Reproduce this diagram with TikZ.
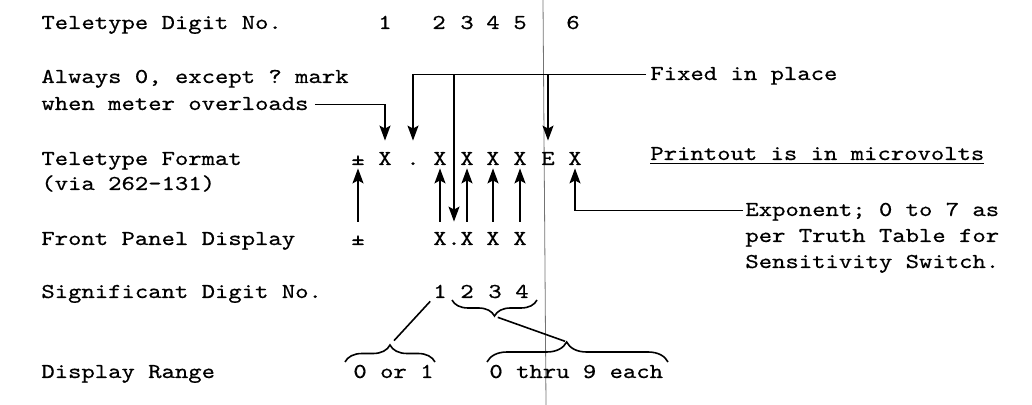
\documentclass[tikz,border=0pt]{standalone}
\usepackage{fontspec}
\setmonofont{lmmono10-regular}[Extension=.otf,FakeStretch=1.2,FakeBold=0.5]
\usetikzlibrary{arrows.meta,decorations.pathreplacing}
\begin{document}
\begin{tikzpicture}[x=0.5pt,y=-0.5pt,font=\ttfamily\fontsize{10.6pt}{13.5pt}\selectfont,rowtext/.style={anchor=base west,inner sep=0pt,text height=7pt,text depth=1.5pt},chr/.style={anchor=base,inner sep=0pt,text height=7pt,text depth=0pt},pointer/.style={draw=black,line width=0.8pt,-{Stealth[length=7.5pt,width=5.5pt,inset=1.5pt]}},leader/.style={draw=black,line width=0.8pt},bracket/.style={draw=black,line width=0.8pt,decorate,decoration={brace,amplitude=#1}}]
\useasboundingbox (0,0) rectangle (1032,405);
\draw[black!55,line width=0.4pt] (543,0) -- (546,405);
% row titles
\node[rowtext] (digitno) at (41,29) {Teletype Digit No.};
\node[rowtext] (always1) at (41,83) {Always 0, except ? mark};
\node[rowtext] (always2) at (41,110) {when meter overloads};
\node[rowtext] (format1) at (41,165) {Teletype Format};
\node[rowtext] (format2) at (41,190) {(via 262-131)};
\node[rowtext] (panel) at (41,245) {Front Panel Display};
\node[rowtext] (signo) at (41,298) {Significant Digit No.};
\node[rowtext] (range) at (41,378) {Display Range};
% digits and formats
\foreach \n/\x in {1/385,2/439,3/467,4/493,5/520,6/573} \node[chr] (d\n) at (\x,29) {\n};
\foreach \n/\x/\c in {pm/358/±,x1/385/X,dot/413/.,x2/440/X,x3/467/X,x4/493/X,x5/520/X,e/548/E,x6/575/X} \node[chr] (t\n) at (\x,165) {\c};
\foreach \n/\x/\c in {pm/358/±,x1/440/X,dot/454/.,x2/467/X,x3/493/X,x4/520/X} \node[chr] (f\n) at (\x,245) {\c};
\foreach \n/\x in {1/440,2/467,3/495,4/522} \node[chr] (s\n) at (\x,298) {\n};
\node[rowtext] (rangeA) at (353,378) {0 or 1};
\node[rowtext] (rangeB) at (489,378) {0 thru 9 each};
% notes on the right
\node[rowtext] (fixed) at (650,80) {Fixed in place};
\node[rowtext] (units) at (650,160) {\underline{Printout is in microvolts}};
\node[rowtext] (expo1) at (745,216) {Exponent; 0 to 7 as};
\node[rowtext] (expo2) at (745,242) {per Truth Table for};
\node[rowtext] (expo3) at (745,268) {Sensitivity Switch.};
% arrows
\draw[pointer,shorten <=3pt,shorten >=5pt] (always2.east) -| (tx1.north);
\draw[pointer,shorten <=2pt,shorten >=5pt] (fixed.west) -| (tdot.north);
\draw[pointer,shorten >=4.5pt] (fixed.west -| fdot) -- (fdot.north);
\draw[pointer,shorten >=5pt] (fixed.west -| te) -- (te.north);
\foreach \a/\b in {pm/pm,x1/x2,x2/x3,x3/x4,x4/x5} \draw[pointer,shorten <=4.5pt,shorten >=1.5pt] (f\a.north) -- (t\b.south);
\draw[pointer,shorten <=1pt,shorten >=1.5pt] (expo1.west) -| (tx6.south);
% braces
\draw[bracket=8pt] (537,300) -- (452,300); \coordinate (sigTip) at (494,316);
\draw[bracket=8.5pt] (345,362) -- (435,362); \coordinate (orTip) at (390,345);
\draw[bracket=10pt,decoration={aspect=0.44}] (487,362) -- (668,362); \coordinate (rngTip) at (567,342);
\draw[leader,shorten <=2pt,shorten >=3pt] (s1.south west) -- (orTip);
\draw[leader,shorten <=2pt,shorten >=1pt] (sigTip) -- (rngTip);
\end{tikzpicture}
\end{document}
